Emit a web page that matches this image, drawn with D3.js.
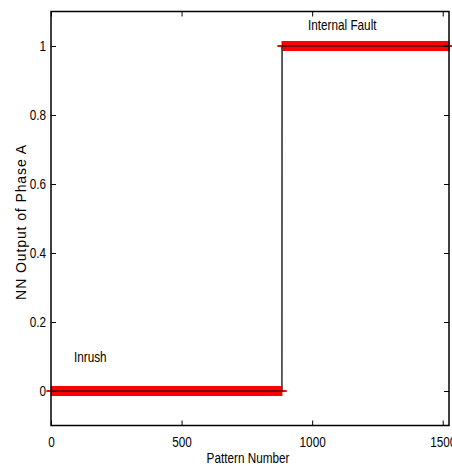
<!DOCTYPE html>
<html><head><meta charset="utf-8">
<script src="https://cdn.jsdelivr.net/npm/d3@7"></script>
<style>
body{margin:0;background:#fff}svg{display:block}
text{font-family:"Liberation Sans",Arial,sans-serif}
.nc{transform-box:fill-box;transform-origin:center;transform:scaleX(0.84)}
.nl{transform-box:fill-box;transform-origin:left;transform:scaleX(0.84)}
.nr{transform-box:fill-box;transform-origin:right;transform:scaleX(0.84)}
</style>
</head><body>
<script>
// Data: NN output of phase A per pattern
const segmentLabels = ["Inrush", "Internal Fault"];
const segmentStart = [1, 885];
const segmentEnd = [884, 1524];
const segmentOutput = [0, 1];
const xTicks = [0, 500, 1000, 1500];
const yTicks = [0, 0.2, 0.4, 0.6, 0.8, 1];
const xDomain = [0, 1524];
const yDomain = [-0.1, 1.1];

const W = 452, H = 466;
const m = {l: 51, r: 3, t: 11.5, b: 40.5};
const svg = d3.select("body").append("svg").attr("width", W).attr("height", H);
const x = d3.scaleLinear().domain(xDomain).range([m.l, W - m.r]);
const y = d3.scaleLinear().domain(yDomain).range([H - m.b, m.t]);

// build points
const points = [];
segmentStart.forEach((s, i) => {
  for (let p = s; p <= segmentEnd[i]; p++) points.push({p, v: segmentOutput[i]});
});

const g = svg.append("g");
// markers '+'
const ms = 5;
g.append("path")
  .attr("d", points.map(d => {
    const cx = x(d.p), cy = y(d.v);
    return `M${cx - ms},${cy}H${cx + ms}M${cx},${cy - ms}V${cy + ms}`;
  }).join(""))
  .attr("stroke", "#ff0000").attr("stroke-width", 1).attr("fill", "none");

// step line
const line = d3.line().x(d => x(d.p)).y(d => y(d.v));
g.append("path").datum(points).attr("d", line)
  .attr("fill", "none").attr("stroke", "#000").attr("stroke-width", 1.2);
const i0 = segmentEnd[0], i1 = segmentStart[1];
g.append("line").attr("x1", x(i0)).attr("x2", x(i1))
  .attr("y1", y(segmentOutput[0]) - 1).attr("y2", y(segmentOutput[1]) + 1)
  .attr("stroke", "#555").attr("stroke-width", 1.2);

// axes box
const x0 = x(xDomain[0]), x1 = x(xDomain[1]), y0 = y(yDomain[0]), y1 = y(yDomain[1]);
svg.append("rect").attr("x", x0).attr("y", y1).attr("width", x1 - x0).attr("height", y0 - y1)
  .attr("fill", "none").attr("stroke", "#000").attr("stroke-width", 1.5);

// ticks inward
const tl = 5;
const axB = d3.axisBottom(x).tickValues(xTicks).tickSizeInner(-tl).tickSizeOuter(0).tickPadding(12).tickFormat(d3.format("d"));
const gb = svg.append("g").attr("transform", `translate(0,${y0})`).call(axB);
const axT = d3.axisTop(x).tickValues(xTicks).tickSizeInner(-tl).tickSizeOuter(0).tickFormat("");
const gt = svg.append("g").attr("transform", `translate(0,${y1})`).call(axT);
const axL = d3.axisLeft(y).tickValues(yTicks).tickSizeInner(-tl).tickSizeOuter(0).tickPadding(5).tickFormat(d => d === 0 || d === 1 ? d3.format("d")(d) : d3.format(".1f")(d));
const gl = svg.append("g").attr("transform", `translate(${x0},0)`).call(axL);
const axR = d3.axisRight(y).tickValues(yTicks).tickSizeInner(-tl).tickSizeOuter(0).tickFormat("");
const gr = svg.append("g").attr("transform", `translate(${x1},0)`).call(axR);
[gb, gt, gl, gr].forEach(a => {
  a.select(".domain").remove();
  a.selectAll("line").attr("stroke", "#000");
  a.selectAll("text").attr("font-size", 14).attr("fill", "#000");
});
gb.selectAll("text").attr("class", "nc");
gl.selectAll("text").attr("class", "nr");

// annotations
svg.append("text").attr("class", "nl").attr("x", 308).attr("y", 30).attr("font-size", 14).text(segmentLabels[1]);
svg.append("text").attr("class", "nl").attr("x", 74).attr("y", 362).attr("font-size", 14).text(segmentLabels[0]);

// axis labels
svg.append("text").attr("class", "nc").attr("x", 248).attr("y", 463).attr("text-anchor", "middle").attr("font-size", 14)
  .text("Pattern Number");
svg.append("text").attr("transform", `translate(26,222) rotate(-90)`).attr("text-anchor", "middle")
  .attr("font-size", 14).attr("letter-spacing", 0.9).text("NN Output of Phase A");
</script>
</body></html>
